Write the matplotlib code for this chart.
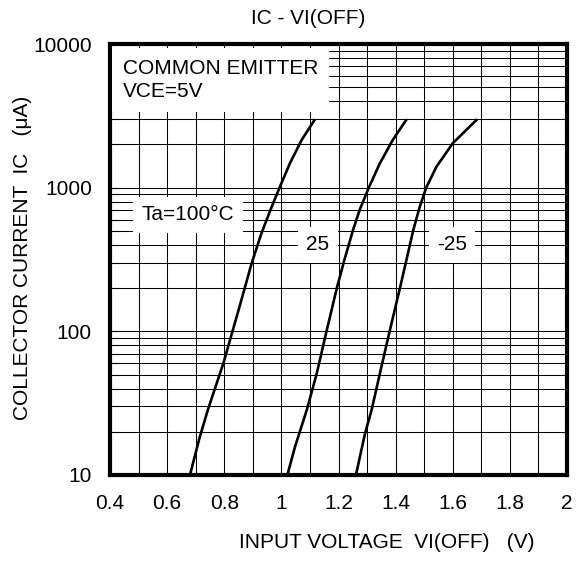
import matplotlib
matplotlib.use('Agg')
import matplotlib.pyplot as plt
from matplotlib.ticker import FixedLocator, NullFormatter

plt.rcParams['font.family'] = ['Liberation Sans', 'DejaVu Sans']

# ---- data ----
v_100 = [0.680, 0.713, 0.744, 0.797, 0.852, 0.896, 0.930, 0.963, 0.995, 1.030, 1.071, 1.118]
ic_100 = [10, 18, 29, 60, 145, 298, 480, 710, 1016, 1479, 2148, 3000]

v_25 = [1.021, 1.048, 1.089, 1.124, 1.159, 1.194, 1.221, 1.250, 1.275, 1.306, 1.345, 1.390, 1.439]
ic_25 = [10, 15.8, 28.4, 51, 102, 199.5, 316, 501, 708, 1000, 1479, 2148, 3000]

v_m25 = [1.261, 1.293, 1.316, 1.345, 1.380, 1.415, 1.462, 1.483, 1.507, 1.543, 1.600, 1.686]
ic_m25 = [10, 19.5, 28.4, 51, 102, 199.5, 508, 720, 1000, 1400, 2037, 3000]

x_ticks = [0.4, 0.6, 0.8, 1.0, 1.2, 1.4, 1.6, 1.8, 2.0]
x_tick_labels = ['0.4', '0.6', '0.8', '1', '1.2', '1.4', '1.6', '1.8', '2']
x_grid = [0.4 + 0.1 * i for i in range(17)]
y_ticks = [10, 100, 1000, 10000]
y_tick_labels = ['10', '100', '1000', '10000']

title = 'IC - VI(OFF)'
x_label = 'INPUT VOLTAGE  VI(OFF)   (V)'
y_label = 'COLLECTOR CURRENT  IC   (μA)'

# ---- figure ----
fig = plt.figure(figsize=(5.82, 5.63), dpi=100)
ax = fig.add_axes([110/582, 1-475/563, 457/582, 431/563])

ax.set_yscale('log')
ax.set_xlim(0.4, 2.0)
ax.set_ylim(10, 10000)

ax.xaxis.set_major_locator(FixedLocator(x_ticks))
ax.xaxis.set_minor_locator(FixedLocator(x_grid))
ax.set_xticklabels(x_tick_labels)
ax.yaxis.set_major_locator(FixedLocator(y_ticks))
ax.set_yticklabels(y_tick_labels)
ax.yaxis.set_minor_formatter(NullFormatter())

ax.grid(True, which='both', axis='both', color='black', linewidth=0.75, zorder=1)
ax.set_axisbelow(True)

ax.tick_params(axis='x', which='both', length=0, pad=14, labelsize=15)
ax.tick_params(axis='y', which='both', direction='in', length=6, width=0.8,
               pad=13, labelsize=15)

for s in ax.spines.values():
    s.set_linewidth(3)

for v, ic in [(v_100, ic_100), (v_25, ic_25), (v_m25, ic_m25)]:
    ax.plot(v, ic, color='black', linewidth=1.9, zorder=5,
            solid_capstyle='butt', solid_joinstyle='round')

ax.text(0.4455, 5600, 'COMMON EMITTER\nVCE=5V', fontsize=15, ha='left', va='center',
        linespacing=1.25, zorder=4,
        bbox=dict(facecolor='white', edgecolor='none', pad=8))
ax.text(0.673, 646, 'Ta=100°C', fontsize=15, ha='center', va='center', zorder=4,
        bbox=dict(facecolor='white', edgecolor='none', pad=6))
ax.text(1.128, 399, '25', fontsize=15, ha='center', va='center', zorder=4,
        bbox=dict(facecolor='white', edgecolor='none', pad=6))
ax.text(1.597, 399, '-25', fontsize=15, ha='center', va='center', zorder=4,
        bbox=dict(facecolor='white', edgecolor='none', pad=6))

fig.text(308/582, 1-18/563, title, fontsize=15, ha='center', va='center')
fig.text(387/582, 1-543/563, x_label, fontsize=15, ha='center', va='center')
fig.text(23/582, 1-258/563, y_label, fontsize=15, ha='center', va='center',
         rotation=90)

fig.savefig('out.png', dpi=100)
